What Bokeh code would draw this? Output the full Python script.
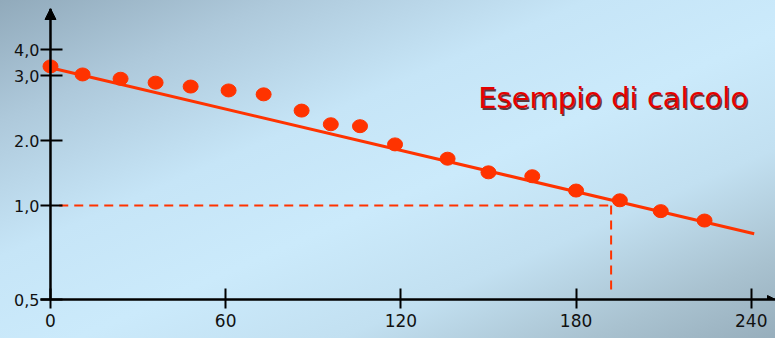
import numpy as np
from bokeh.plotting import figure
from bokeh.models import (Range1d, FixedTicker, Arrow, NormalHead, Span,
                          GlobalInlineStyleSheet, ColumnDataSource)
from bokeh.core.properties import value
from bokeh.embed import file_html
from bokeh.resources import INLINE

# ---------------- data ----------------
x_ticks = [0, 60, 120, 180, 240]
x_tick_labels = ["0", "60", "120", "180", "240"]

y_tick_values = [0.5, 1.0, 2.0, 3.0, 4.0]
y_tick_labels = ["0,5", "1,0", "2.0", "3,0", "4,0"]

t_points = [0, 11, 24, 36, 48, 61, 73, 86, 96, 106, 118, 136, 150, 165, 180, 195, 209, 224]
c_points = [3.35, 3.04, 2.95, 2.89, 2.83, 2.77, 2.71, 2.46, 2.25, 2.22,
            1.94, 1.72, 1.51, 1.45, 1.23, 1.08, 0.97, 0.92]

fit_t = [0, 241]
fit_c = [3.30, 0.85]

c_ref = 1.0
t_ref = 192
t_dash_start = 3
c_dash_bottom = 0.53

title_text = "Esempio di calcolo"
title_t = 146.5
title_c = 2.65

# ---------------- hand-drawn axis layout (axis height of each labelled value) ----------------
y_tick_heights = [0, 94, 159, 224, 250]


def to_axis(c):
    return np.interp(np.asarray(c, dtype=float), y_tick_values, y_tick_heights)


RED = "#ff3300"

p = figure(width=775, height=338, output_backend="svg", toolbar_location=None,
           x_range=Range1d(-3.42, 248.3), y_range=Range1d(0, 291),
           min_border_left=40, min_border_right=0, min_border_top=8, min_border_bottom=39)

p.background_fill_alpha = 0
p.border_fill_alpha = 0
p.outline_line_alpha = 0
p.grid.visible = False

p.stylesheets = [GlobalInlineStyleSheet(css="""
html { height: 100%; background: linear-gradient(to bottom right,
   #91aabb 0%, #aec9db 18%, #c6e5f7 38%, #cbeafb 55%, #c2e0f1 72%, #a9c2d0 88%, #97aebc 100%); }
body { background: transparent; }
""")]

# axes
xa = p.xaxis[0]
xa.ticker = FixedTicker(ticks=x_ticks)
xa.major_label_overrides = {t: l for t, l in zip(x_ticks, x_tick_labels)}
xa.minor_tick_line_alpha = 0
xa.axis_line_width = 2.5
xa.major_tick_line_width = 2
xa.major_tick_in = 11
xa.major_tick_out = 9
xa.major_label_standoff = 5
xa.major_label_text_font = "DejaVu Sans"
xa.major_label_text_font_size = "17px"
xa.major_label_text_color = "#111111"

ya = p.yaxis[0]
ya.ticker = FixedTicker(ticks=y_tick_heights)
ya.major_label_overrides = {h: l for h, l in zip(y_tick_heights, y_tick_labels)}
ya.minor_tick_line_alpha = 0
ya.axis_line_alpha = 0
ya.major_tick_line_width = 2
ya.major_tick_in = 22
ya.major_tick_out = 0
ya.major_label_standoff = 1
ya.major_label_text_font = "DejaVu Sans"
ya.major_label_text_font_size = "16px"
ya.major_label_text_color = "#111111"

# vertical axis line at t = 0
p.add_layout(Span(location=0, dimension="height", line_color="black", line_width=2.5))

# arrow heads
p.add_layout(Arrow(x_start=0, y_start=270, x_end=0, y_end=291, line_alpha=0,
                   end=NormalHead(size=11, fill_color="black", line_color="black")))
p.add_layout(Arrow(x_start=240, y_start=0, x_end=248.3, y_end=0, line_alpha=0,
                   end=NormalHead(size=8, fill_color="black", line_color="black")))

# dashed reference lines
p.line([t_dash_start, t_ref], to_axis([c_ref, c_ref]), line_color=RED, line_width=2, line_dash="9 6")
p.line([t_ref, t_ref], to_axis([c_ref, c_dash_bottom]), line_color=RED, line_width=2, line_dash="9 6")

# fitted line
p.line(fit_t, to_axis(fit_c), line_color=RED, line_width=3)

# data points
src = ColumnDataSource(dict(t=t_points, h=to_axis(c_points)))
p.ellipse(x="t", y="h", width=15, height=13, width_units="screen", height_units="screen",
          source=src, fill_color=RED, line_color=RED)

# title text with shadow
tsrc = ColumnDataSource(dict(t=[title_t], h=to_axis([title_c]), s=[title_text]))
p.text(x="t", y="h", text="s", source=tsrc, text_font=value("DejaVu Sans"),
       text_font_size="29px", text_color="#3a0000", text_alpha=0.75,
       x_offset=1.5, y_offset=1.5, text_baseline="alphabetic")
p.text(x="t", y="h", text="s", source=tsrc, text_font=value("DejaVu Sans"),
       text_font_size="29px", text_color="#e60000", text_baseline="alphabetic")

open("out.html", "w").write(file_html(p, INLINE))
